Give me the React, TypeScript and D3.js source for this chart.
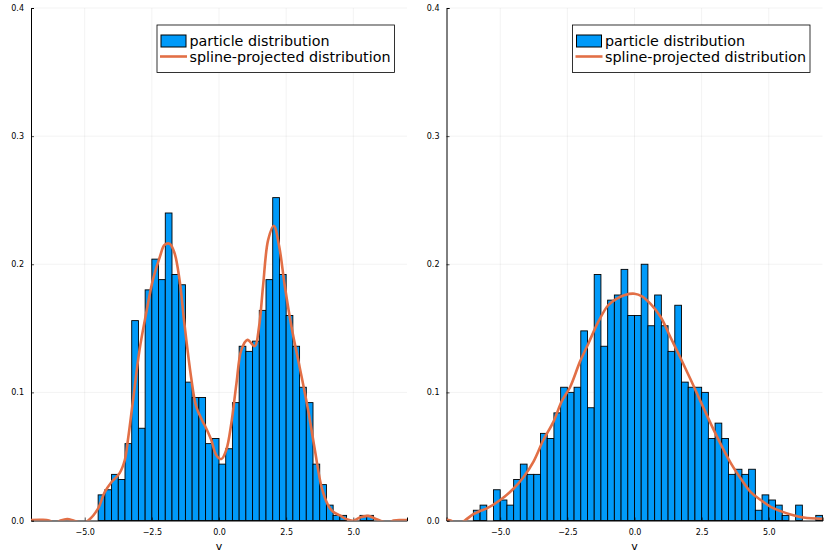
import { useEffect, useRef } from 'react'
import * as d3 from 'd3'

// bin left edges run from -7 to 6.75 in steps of 0.25
const binEdges = d3.range(0, 56).map(i => -7 + i * 0.25)

const leftBars = [
  0, 0, 0, 0, 0, 0, 0, 0, 0, 0,
  0.02, 0.024, 0.036, 0.032, 0.06, 0.156, 0.072, 0.18, 0.204, 0.188,
  0.24, 0.192, 0.184, 0.108, 0.096, 0.096, 0.06, 0.064, 0.044, 0.056,
  0.092, 0.136, 0.132, 0.14, 0.164, 0.188, 0.252, 0.192, 0.16, 0.136,
  0.104, 0.092, 0.044, 0.028, 0.012, 0.004, 0.004, 0, 0, 0.004,
  0.004, 0, 0, 0, 0, 0,
]

const rightBars = [
  0, 0, 0, 0, 0.008, 0.012, 0, 0.024, 0.016, 0.012,
  0.032, 0.044, 0.036, 0.036, 0.068, 0.064, 0.084, 0.104, 0.1, 0.104,
  0.148, 0.088, 0.192, 0.136, 0.172, 0.176, 0.196, 0.16, 0.16, 0.2,
  0.152, 0.176, 0.152, 0.132, 0.168, 0.108, 0.104, 0.104, 0.1, 0.064,
  0.076, 0.064, 0.036, 0.04, 0.036, 0.04, 0.008, 0.02, 0.016, 0.012,
  0.004, 0, 0.012, 0, 0, 0.004,
]

const leftCurve: [number, number][] = [
  [-7, 0.0004], [-6.6, 0.0005], [-6.33, 0], [-6.1, -0.002], [-5.9, 0], [-5.65, 0.0012], [-5.42, 0], [-5.1, -0.002],
  [-4.87, 0], [-4.5, 0.0094], [-4.26, 0.022], [-4.0, 0.03], [-3.7, 0.037], [-3.51, 0.047], [-3.39, 0.063],
  [-3.2, 0.094], [-2.96, 0.133], [-2.71, 0.162], [-2.46, 0.188], [-2.2, 0.206], [-2.03, 0.215], [-1.84, 0.216],
  [-1.66, 0.209], [-1.47, 0.188], [-1.29, 0.154], [-1.04, 0.112], [-0.85, 0.089], [-0.6, 0.077], [-0.5, 0.073],
  [-0.29, 0.063], [-0.1, 0.051], [0.09, 0.048], [0.27, 0.055], [0.46, 0.076], [0.65, 0.107], [0.83, 0.133],
  [1.06, 0.141], [1.33, 0.136], [1.49, 0.151], [1.64, 0.183], [1.83, 0.219], [2.04, 0.23], [2.24, 0.214],
  [2.45, 0.183], [2.7, 0.151], [3.0, 0.12], [3.32, 0.086], [3.57, 0.055], [3.82, 0.026], [4.06, 0.012],
  [4.25, 0.0068], [4.5, 0.004], [4.75, 0.001], [5.0, -0.0002], [5.24, 0.0023], [5.55, 0.0036], [5.8, 0.0016],
  [6.05, -0.0005], [6.3, -0.002], [6.5, 0], [6.85, 0.0003], [7, 0.0003],
]

const rightCurve: [number, number][] = [
  [-7, 0.0005], [-6.85, 0], [-6.6, -0.003], [-6.32, 0], [-6, 0.005], [-5.74, 0.0075], [-5.5, 0.0094], [-5, 0.016],
  [-4.5, 0.025], [-4.13, 0.034], [-3.76, 0.046], [-3.39, 0.063], [-3.02, 0.077], [-2.71, 0.093], [-2.4, 0.104],
  [-2.03, 0.124], [-1.72, 0.138], [-1.35, 0.155], [-0.98, 0.168], [-0.67, 0.173], [-0.36, 0.176], [0, 0.177],
  [0.28, 0.175], [0.6, 0.169], [0.97, 0.159], [1.34, 0.143], [1.71, 0.127], [2.09, 0.11], [2.46, 0.093],
  [2.83, 0.076], [3.2, 0.06], [3.58, 0.045], [3.95, 0.033], [4.32, 0.0224], [4.7, 0.016], [5.07, 0.0107],
  [5.44, 0.0073], [5.81, 0.0047], [6.3, 0.0023], [7, 0.0013],
]

const xTicks = [-5, -2.5, 0, 2.5, 5]
const yTicks = [0, 0.1, 0.2, 0.3, 0.4]
const legendLabels = ['particle distribution', 'spline-projected distribution']

const BLUE = '#009af9'
const ORANGE = '#e26f46'
const FONT = '"DejaVu Sans", sans-serif'

const App = () => {
  const svgRef = useRef<SVGSVGElement>(null)

  useEffect(() => {
    if (!svgRef.current) return
    const root = d3.select(svgRef.current)
    root.selectAll('*').remove()

    const panel = (id: string, left: number, right: number, bars: number[], curve: [number, number][]) => {
      const x = d3.scaleLinear().domain([-7, 7]).range([left, right])
      const y = d3.scaleLinear().domain([0, 0.4]).range([520.5, 8])
      const svg = root.append('g')

      // grid
      svg.append('g')
        .selectAll('line')
        .data(xTicks)
        .join('line')
        .attr('x1', d => x(d)).attr('x2', d => x(d))
        .attr('y1', y(0)).attr('y2', y(0.4))
        .attr('stroke', '#000').attr('stroke-opacity', 0.1).attr('stroke-width', 0.5)
      svg.append('g')
        .selectAll('line')
        .data(yTicks)
        .join('line')
        .attr('x1', left).attr('x2', right)
        .attr('y1', d => y(d)).attr('y2', d => y(d))
        .attr('stroke', '#000').attr('stroke-opacity', 0.1).attr('stroke-width', 0.5)

      // histogram
      svg.append('g')
        .selectAll('rect')
        .data(bars)
        .join('rect')
        .attr('x', (_, i) => x(binEdges[i]))
        .attr('y', d => y(d))
        .attr('width', (_, i) => x(binEdges[i] + 0.25) - x(binEdges[i]))
        .attr('height', d => y(0) - y(d))
        .attr('fill', BLUE)
        .attr('stroke', '#000')
        .attr('stroke-width', 0.9)

      // axes
      const xAxis = svg.append('g')
        .attr('transform', `translate(0,${y(0)})`)
        .call(d3.axisBottom(x).tickValues(xTicks).tickSize(-3).tickPadding(9)
          .tickFormat(d => d3.format('.1f')(d.valueOf()).replace('-', '\u2212')))
      const yAxis = svg.append('g')
        .attr('transform', `translate(${left},0)`)
        .call(d3.axisLeft(y).tickValues(yTicks).tickSize(-3).tickPadding(7)
          .tickFormat(d => d3.format('.1f')(d.valueOf())))
      for (const axis of [xAxis, yAxis]) {
        axis.select('.domain').attr('stroke', '#000').attr('stroke-width', 1)
        axis.selectAll('.tick line').attr('stroke', '#000').attr('stroke-width', 0.7)
        axis.selectAll('text').style('font-family', FONT).style('font-size', '8px').style('fill', '#000')
      }

      // spline, clipped to the plot area
      const clipId = `clip-${id}`
      svg.append('clipPath').attr('id', clipId).append('rect')
        .attr('x', left).attr('y', y(0.4)).attr('width', right - left).attr('height', y(0) - y(0.4))
      svg.append('path')
        .datum(curve)
        .attr('clip-path', `url(#${clipId})`)
        .attr('fill', 'none')
        .attr('stroke', ORANGE)
        .attr('stroke-width', 2.6)
        .attr('d', d3.line<[number, number]>().x(d => x(d[0])).y(d => y(d[1])).curve(d3.curveCatmullRom.alpha(0.5)))

      svg.append('text')
        .attr('x', x(0)).attr('y', 549.5)
        .attr('text-anchor', 'middle')
        .style('font-family', FONT).style('font-size', '11px').style('fill', '#000')
        .text('v')

      // legend
      const lx = left + 126
      const legend = svg.append('g').attr('transform', `translate(${lx},25)`)
      legend.append('rect')
        .attr('width', 237.5).attr('height', 47.5)
        .attr('fill', '#fff').attr('stroke', '#000').attr('stroke-width', 0.8)
      legend.append('rect')
        .attr('x', 4).attr('y', 10).attr('width', 25).attr('height', 12)
        .attr('fill', BLUE).attr('stroke', '#000').attr('stroke-width', 1)
      legend.append('line')
        .attr('x1', 3).attr('x2', 30).attr('y1', 31.5).attr('y2', 31.5)
        .attr('stroke', ORANGE).attr('stroke-width', 2.6)
      legend.selectAll('text.label')
        .data(legendLabels)
        .join('text')
        .attr('class', 'label')
        .attr('x', 32.5)
        .attr('y', (_, i) => 21 + i * 16)
        .style('font-family', FONT).style('font-size', '14.3px').style('fill', '#000')
        .text(d => d)
    }

    panel('a', 31, 407, leftBars, leftCurve)
    panel('b', 446.5, 822.5, rightBars, rightCurve)
  }, [])

  return (
    <svg
      ref={svgRef}
      width={830}
      height={554}
      viewBox="0 0 830 554"
      style={{ position: 'absolute', left: 0, top: 0, background: '#fff' }}
    />
  )
}

export default App
